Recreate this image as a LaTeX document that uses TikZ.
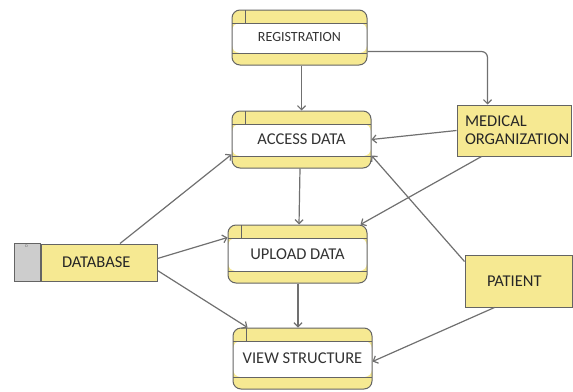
\documentclass[tikz,border=0pt]{standalone}
\usepackage{fontspec}
\setmainfont{Carlito}
\usetikzlibrary{arrows.meta,calc,positioning}

\definecolor{boxyellow}{RGB}{246,233,146}
\definecolor{boxline}{RGB}{100,100,100}
\definecolor{linegray}{RGB}{112,112,112}
\definecolor{dbgray}{RGB}{205,205,205}

\begin{document}
\begin{tikzpicture}[x=1pt,y=-1pt,
  proc/.style={draw=boxline, line width=1pt, rounded corners=8pt, fill=boxyellow,
    minimum width=139, minimum height=58, text=black!80,
    font=\fontsize{16.5}{19}\selectfont,
    path picture={
      \fill[white] ($(path picture bounding box.north west)+(0,-13pt)$) rectangle ($(path picture bounding box.south east)+(0,12pt)$);
      \draw[boxline, line width=1pt] ($(path picture bounding box.north west)+(0,-13pt)$) -- ($(path picture bounding box.north east)+(0,-13pt)$);
      \draw[boxline, line width=1pt] ($(path picture bounding box.south west)+(0,12pt)$) -- ($(path picture bounding box.south east)+(0,12pt)$);
      \draw[boxline, line width=1pt] ($(path picture bounding box.north west)+(13pt,0)$) -- ++(0,-13pt);
    }},
  ent/.style={draw=boxline, line width=1pt, fill=boxyellow, text=black!85,
    font=\fontsize{16.5}{18}\selectfont},
  flow/.style={draw=linegray, line width=1.2pt, -{Straight Barb[length=4pt,width=8pt]}}
]
\useasboundingbox (0,0) rectangle (573,391);

\node[proc, minimum width=135, minimum height=55, font=\fontsize{14}{16}\selectfont] (reg) at (299.5,37.5) {REGISTRATION};
\node[proc, minimum height=57] (access) at (301.5,139.5) {ACCESS DATA};
\node[proc] (upload) at (297.5,254) {UPLOAD DATA};
\node[proc, minimum height=61] (view) at (302.5,358.5) {VIEW STRUCTURE};

\node[ent, minimum width=116, minimum height=37, text width=74, inner xsep=21, align=left] (database) at (99,262.5) {DATABASE};
\draw[boxline, line width=1pt, fill=dbgray] (database.north west) rectangle ($(database.south west)+(-26,0)$);
\node[font=\fontsize{4}{4}\selectfont, text=black!60, inner sep=0] (dbmark) at ($(database.north west)+(-14,3)$) {D};

\node[ent, minimum width=114, minimum height=51, text width=98, align=left, inner xsep=8] (medical) at (514,130.5) {MEDICAL\\ORGANIZATION};
\node[ent, minimum width=107, minimum height=52, text width=63, align=left, inner xsep=22] (patient) at (518.5,281) {PATIENT};

\draw[flow] (reg.south -| access.north) -- (access.north);
\draw[flow, rounded corners=6pt] ($(reg.south east)+(0,-14)$) -| ($(medical.north west)+(31,0)$);
\draw[flow] (medical.west) -- (access.east);
\draw[flow] ($(medical.south west)+(25,0)$) -- ($(upload.north east)+(-7,0)$);
\draw[flow] ($(access.south)+(-1.5,0)$) -- ($(upload.north)+(1.5,0)$);
\draw[flow] ($(upload.south)+(0.5,0)$) -- ($(view.north)+(-4.5,0)$);
\draw[flow] ($(database.north)+(21,0)$) -- ($(access.south west)+(0,-14)$);
\draw[flow] ($(database.east)+(0,-4)$) -- ($(upload.north west)+(0,13)$);
\draw[flow] ($(database.east)+(0,8)$) -- ($(view.north west)+(15,0)$);
\draw[flow] ($(patient.north west)+(0,7)$) -- ($(access.south east)+(0,-13)$);
\draw[flow] ($(patient.south west)+(30,0)$) -- ($(view.east)+(0,3)$);
\end{tikzpicture}
\end{document}
